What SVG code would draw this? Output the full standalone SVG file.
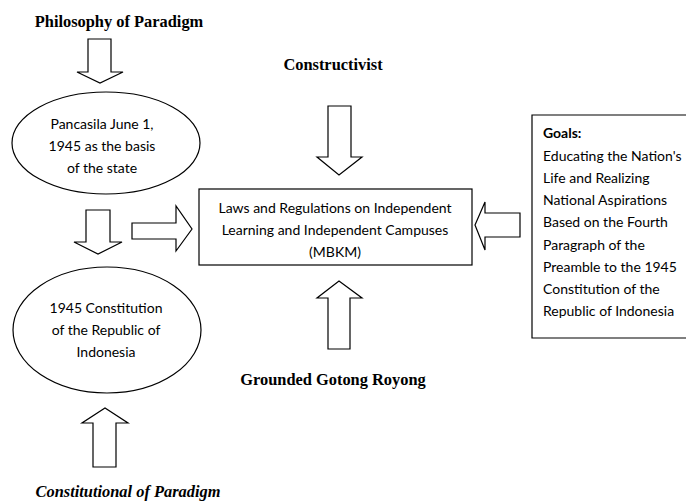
<svg xmlns="http://www.w3.org/2000/svg" width="686" height="503" viewBox="0 0 686 503">
<style>
.shape{fill:#fff;stroke:#000;stroke-width:1.2}
.arrow{fill:#fff;stroke:#000;stroke-width:1.2;stroke-linejoin:miter}
.t{font-family:Lato,"Liberation Sans",sans-serif;font-size:14px;fill:#000}
.h{font-family:"Liberation Serif",serif;font-weight:bold;font-size:16.4px;fill:#000}
</style>
<rect width="686" height="503" fill="#fff"/>
<g id="label-philosophy"><text class="h" x="119" y="27" text-anchor="middle">Philosophy of Paradigm</text></g>
<g id="label-constructivist"><text class="h" x="333" y="70" text-anchor="middle">Constructivist</text></g>
<g id="label-gotong"><text class="h" x="333" y="385" text-anchor="middle">Grounded Gotong Royong</text></g>
<g id="label-constitutional"><text class="h" x="128" y="497" text-anchor="middle" font-style="italic">Constitutional of Paradigm</text></g>
<g id="pancasila">
<ellipse class="shape" cx="106" cy="143" rx="94" ry="51"/>
<text class="t" text-anchor="middle"><tspan x="102" y="129">Pancasila June 1,</tspan><tspan x="102" y="151">1945 as the basis</tspan><tspan x="102" y="173">of the state</tspan></text>
</g>
<g id="constitution">
<ellipse class="shape" cx="107" cy="330" rx="94" ry="63"/>
<text class="t" text-anchor="middle"><tspan x="106" y="313">1945 Constitution</tspan><tspan x="106" y="335">of the Republic of</tspan><tspan x="106" y="357">Indonesia</tspan></text>
</g>
<g id="mbkm">
<rect class="shape" x="199" y="189" width="273" height="76"/>
<text class="t" text-anchor="middle"><tspan x="335" y="213">Laws and Regulations on Independent</tspan><tspan x="335" y="235">Learning and Independent Campuses</tspan><tspan x="335" y="257">(MBKM)</tspan></text>
</g>
<g id="goals">
<path class="shape" d="M687 115 H532 V338 H687"/>
<text class="t"><tspan x="543" y="138" font-weight="bold">Goals:</tspan><tspan x="543" y="161">Educating the Nation's</tspan><tspan x="543" y="183">Life and Realizing</tspan><tspan x="543" y="205">National Aspirations</tspan><tspan x="543" y="227">Based on the Fourth</tspan><tspan x="543" y="250">Paragraph of the</tspan><tspan x="543" y="272">Preamble to the 1945</tspan><tspan x="543" y="294">Constitution of the</tspan><tspan x="543" y="316">Republic of Indonesia</tspan></text>
</g>
<g id="connectors">
<path class="arrow" d="M88 39 H111 V72 H123 L100 83 L77 72 H88 Z"/>
<path class="arrow" d="M86 210 H110 V242 H122 L98 254 L74 242 H86 Z"/>
<path class="arrow" d="M132 223 H176 V206 L192 229 L176 251 V239 H132 Z"/>
<path class="arrow" d="M328 106 H351 V157 H362 L339 175 L317 157 H328 Z"/>
<path class="arrow" d="M328 349 H350 V298 H362 L339 281 L317 298 H328 Z"/>
<path class="arrow" d="M520 213 H485 V202 L475 225 L485 250 V237 H520 Z"/>
<path class="arrow" d="M93 467 H116 V423 H128 L105 408 L82 423 H93 Z"/>
</g>
</svg>
